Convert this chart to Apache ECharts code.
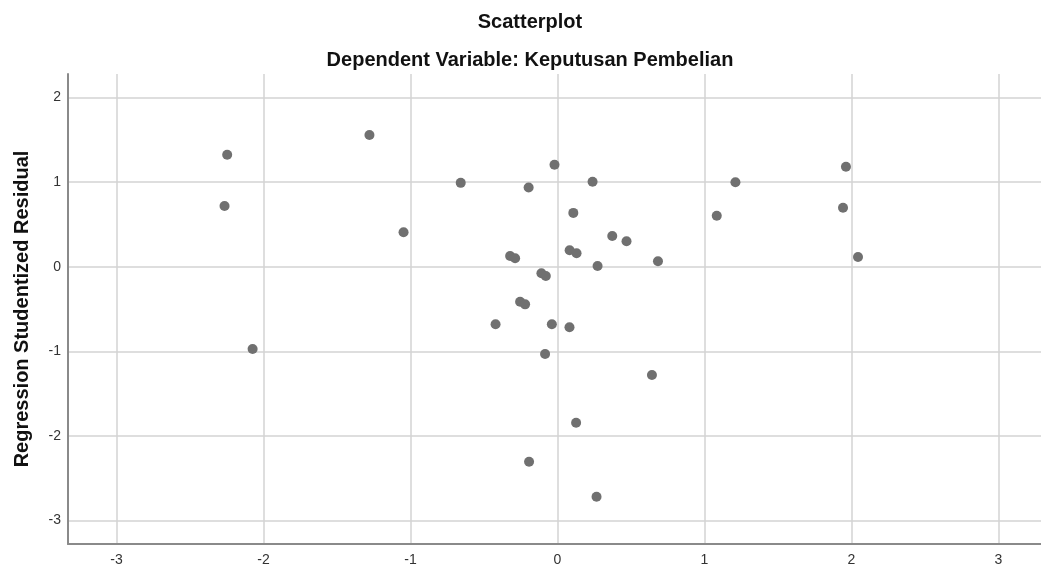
<!DOCTYPE html>
<html>
<head>
<meta charset="utf-8">
<style>
html,body{margin:0;padding:0;background:#fff;}
#chart{width:1041px;height:568px;}
</style>
<script src="https://cdn.jsdelivr.net/npm/echarts@6/dist/echarts.min.js"></script>
</head>
<body>
<div id="chart"></div>
<script>
// Standardized predicted value (x) vs studentized residual (y)
const predicted = [
  -2.247, -2.265, -2.074, -1.279, -1.047, -0.658, -0.196, -0.020, 0.239, 0.108,
  -0.322, -0.288, 0.083, 0.130, 0.373, 0.470, 0.273, 0.684, -0.109, -0.079,
  -0.254, -0.220, -0.421, -0.038, 0.082, -0.084, 0.643, 0.127, -0.193, 0.266,
  1.084, 1.211, 1.963, 1.943, 2.045
];
const residual = [
  1.324, 0.717, -0.973, 1.557, 0.407, 0.991, 0.936, 1.206, 1.005, 0.636,
  0.126, 0.099, 0.194, 0.158, 0.363, 0.300, 0.008, 0.064, -0.078, -0.110,
  -0.414, -0.445, -0.681, -0.681, -0.716, -1.032, -1.280, -1.844, -2.305, -2.720,
  0.603, 0.998, 1.182, 0.697, 0.115
];
const xTicks = [-3, -2, -1, 0, 1, 2, 3];
const yTicks = [-3, -2, -1, 0, 1, 2];
const titleText = 'Scatterplot';
const subtitleText = 'Dependent Variable: Keputusan Pembelian';
const yName = 'Regression Studentized Residual';

const points = predicted.map((x, i) => [x, residual[i]]);
const font = "'Liberation Sans', Arial, sans-serif";

const chart = echarts.init(document.getElementById('chart'), null, {renderer: 'canvas'});
chart.setOption({
  animation: false,
  backgroundColor: '#ffffff',
  title: [
    {text: titleText, left: 525, top: 7, textAlign: 'center',
     textStyle: {fontFamily: font, fontSize: 20, fontWeight: 'bold', color: '#111'}},
    {text: subtitleText, left: 525, top: 45, textAlign: 'center',
     textStyle: {fontFamily: font, fontSize: 20, fontWeight: 'bold', color: '#111'}}
  ],
  grid: {left: 68, right: 0, top: 74, bottom: 24, containLabel: false},
  xAxis: {
    type: 'value', min: -3.33, max: 3.29,
    axisLine: {show: true, onZero: false, lineStyle: {color: '#8a8a8a', width: 2}},
    axisTick: {show: false, customValues: xTicks},
    axisLabel: {customValues: xTicks, color: '#333', fontFamily: font, fontSize: 14, margin: 9,
                showMinLabel: true, showMaxLabel: true},
    splitLine: {show: true, lineStyle: {color: '#d3d3d3', width: 1.5}}
  },
  yAxis: {
    type: 'value', min: -3.278, max: 2.278,
    name: yName, nameLocation: 'middle', nameGap: 36,
    nameTextStyle: {fontFamily: font, fontSize: 20, fontWeight: 'bold', color: '#111'},
    axisLine: {show: true, onZero: false, lineStyle: {color: '#8a8a8a', width: 2}},
    axisTick: {show: false, customValues: yTicks},
    axisLabel: {customValues: yTicks, color: '#333', fontFamily: font, fontSize: 14, margin: 7},
    splitLine: {show: true, lineStyle: {color: '#d3d3d3', width: 1.5}}
  },
  series: [{
    type: 'scatter',
    data: points,
    symbol: 'circle',
    symbolSize: 10,
    itemStyle: {color: '#707070', opacity: 1},
    emphasis: {disabled: true}
  }]
});
</script>
</body>
</html>
